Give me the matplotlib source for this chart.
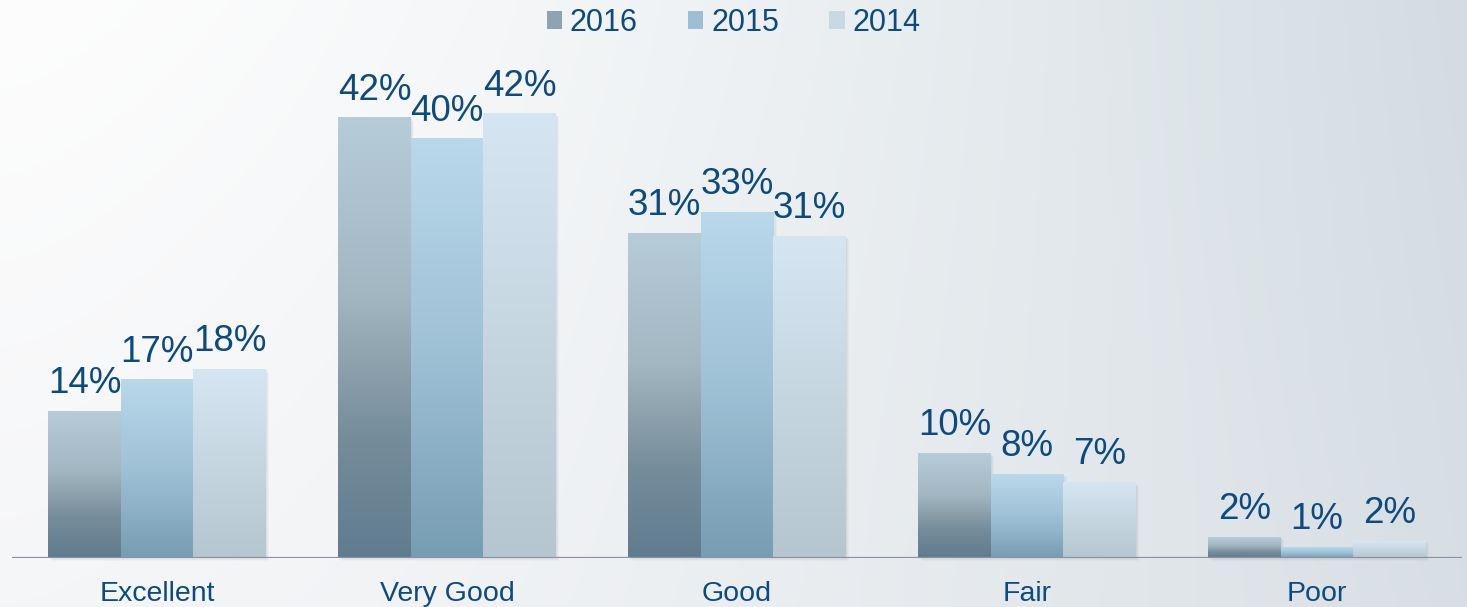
import numpy as np
import matplotlib
matplotlib.use("Agg")
import matplotlib.pyplot as plt
from matplotlib.colors import LinearSegmentedColormap, to_rgb
from matplotlib.patches import Rectangle

categories = ["Excellent", "Very Good", "Good", "Fair", "Poor"]
series_names = ["2016", "2015", "2014"]
values_2016 = [14, 42, 31, 10, 2]
values_2015 = [17, 40, 33, 8, 1]
values_2014 = [18, 42.4, 30.7, 7.2, 1.6]

plt.rcParams['font.family'] = ['Liberation Sans', 'DejaVu Sans']
TEXT = "#0d4a7e"

grads = {
    "2016": [(0.0, "#5f7c8e"), (0.28, "#768d9b"), (0.45, "#8fa3ae"), (0.6, "#a2b7c2"), (1.0, "#b6ccd8")],
    "2015": [(0.0, "#779db3"), (0.5, "#9fc1d6"), (1.0, "#b9d8eb")],
    "2014": [(0.0, "#b5c6d1"), (0.5, "#c6d6e1"), (1.0, "#d5e6f2")],
}
legend_cols = {"2016": "#8ea4b2", "2015": "#9dbfd3", "2014": "#c8d9e4"}

W, H = 1467, 607
fig = plt.figure(figsize=(W / 100, H / 100), dpi=100)

# background gradient
bg = fig.add_axes([0, 0, 1, 1], zorder=-10)
bg.set_axis_off()
tl, tr = np.array(to_rgb("#fdfdfd")), np.array(to_rgb("#d2dce2"))
bl, br = np.array(to_rgb("#f5f6f8")), np.array(to_rgb("#d8dfe4"))
xs = np.linspace(0, 1, 300) ** 1.5
ys = np.linspace(0, 1, 120)
X, Y = np.meshgrid(xs, ys)
img = (tl[None, None] * ((1 - X) * (1 - Y))[..., None] + tr[None, None] * (X * (1 - Y))[..., None]
       + bl[None, None] * ((1 - X) * Y)[..., None] + br[None, None] * (X * Y)[..., None])
bg.imshow(img, extent=[0, 1, 0, 1], aspect='auto', origin='upper', interpolation='bilinear')
bg.set_xlim(0, 1)
bg.set_ylim(0, 1)

ax_left = 12 / W
ax_w = 1450 / W
ax_bottom = (H - 558) / H
ax_h = 45 * 10.48 / H
ax = fig.add_axes([ax_left, ax_bottom, ax_w, ax_h])
ax.patch.set_alpha(0)

x = np.arange(len(categories))
width = 0.25
series = [values_2016, values_2015, values_2014]
offsets = [-width, 0, width]

grad_img = np.linspace(1, 0, 256).reshape(-1, 1)
for name, vals, off in zip(series_names, series, offsets):
    cmap = LinearSegmentedColormap.from_list(name, grads[name])
    bars = ax.bar(x + off, vals, width, color='none', edgecolor='none', zorder=3)
    for b, v in zip(bars, vals):
        x0, w, h = b.get_x(), b.get_width(), b.get_height()
        # soft shadow
        for k, a in enumerate([0.06, 0.05, 0.04]):
            dx = 0.004 * (k + 1)
            dy = 0.1 * (k + 1)
            ax.add_patch(Rectangle((x0 + dx, -dy), w, h, facecolor='#5a6470', alpha=a,
                                   edgecolor='none', zorder=2, clip_on=False))
        ax.imshow(grad_img, cmap=cmap, extent=[x0, x0 + w, 0, h], aspect='auto',
                  vmin=0, vmax=1, zorder=3, interpolation='bilinear')
        ax.annotate(f"{v:.0f}%", (x0 + w / 2, h), xytext=(0, 13), textcoords='offset points',
                    ha='center', va='baseline', fontsize=26.5, color=TEXT, zorder=5)

ax.set_xlim(-0.5, 4.5)
ax.set_ylim(0, 45)
ax.axhline(0, color='#8b90a6', lw=1.6, zorder=4)
for s in ax.spines.values():
    s.set_visible(False)
ax.set_yticks([])
ax.set_xticks(x)
ax.set_xticklabels(categories, fontsize=20.5, color=TEXT)
ax.tick_params(axis='x', length=0, pad=16.5)

handles = [Rectangle((0, 0), 1, 1, facecolor=legend_cols[n], edgecolor='none') for n in series_names]
leg = fig.legend(handles, series_names, loc='center', bbox_to_anchor=(0.5, 1 - 23 / H), ncol=3,
                 frameon=False, fontsize=22, handlelength=0.5, handleheight=0.5,
                 handletextpad=0.25, columnspacing=1.65)
for t in leg.get_texts():
    t.set_color(TEXT)

fig.savefig("out.png", dpi=100)
